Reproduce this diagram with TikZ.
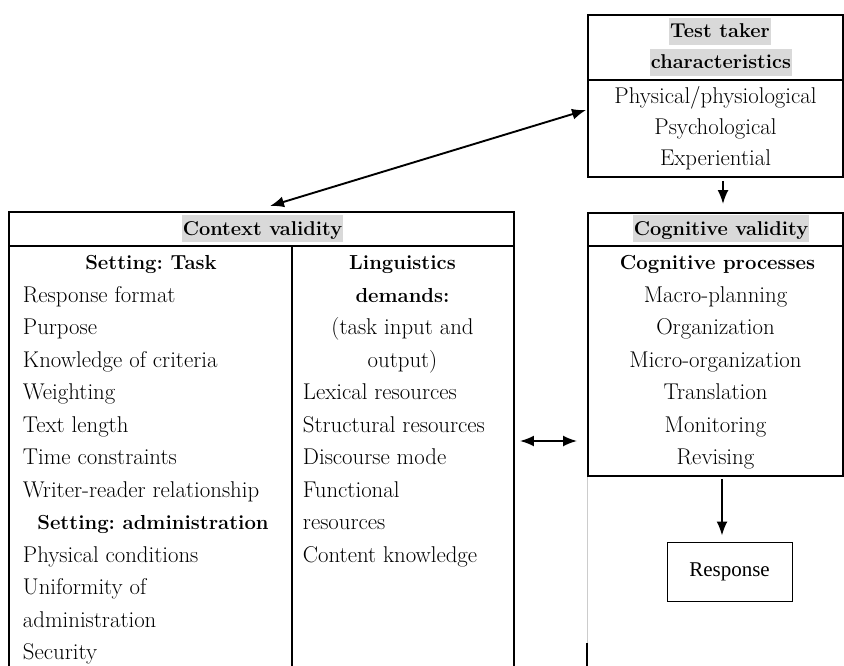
\documentclass[tikz,border=0pt]{standalone}
\usepackage{fontspec}
\newfontfamily\respfont{Liberation Serif}
\usetikzlibrary{arrows.meta}
\frenchspacing
\tikzset{
  box/.style={draw},
  hdr/.style={fill=black!15, inner sep=1pt, text height=19pt, text depth=6pt, anchor=base, font=\fontsize{20}{24}\selectfont\bfseries},
  cell/.style={inner sep=0pt, font=\fontsize{22.8}{32.5}\selectfont},
  cellbold/.style={inner sep=0pt, font=\fontsize{20.3}{32.5}\selectfont\bfseries},
}
\begin{document}
\begin{tikzpicture}[x=1pt, y=-1pt, line width=1.9pt, >={Latex[length=14pt,width=11pt]}]
    \useasboundingbox (0,0) rectangle (844,666);
    \node (taker) [box, minimum width=255pt, minimum height=162pt] at (715.5,96) {};
    \node (cognitive) [box, minimum width=255pt, minimum height=263pt] at (715.5,344.5) {};
    \node (context) [minimum width=503pt, minimum height=456pt, inner sep=0pt] at (261.5,441) {};
    \node (response) [draw, line width=0.9pt, minimum width=125pt, minimum height=59pt, font=\fontsize{21}{25}\respfont] at (729.5,571.5) {Response};
    \draw (context.south west) |- (context.north east) -- (context.south east);
    \draw (context.west |- 0,246) -- (context.east |- 0,246);
    \draw (292,246) -- (292,669);
    \draw (cognitive.west |- 0,246) -- (cognitive.east |- 0,246);
    \draw (taker.west |- 0,80) -- (taker.east |- 0,80);
    \draw [black!20, line width=0.6pt] (cognitive.south west) -- ++(0,166);
    \draw (cognitive.south west) ++(0,166) -- (cognitive.south west |- context.south);

    \node (takerhead1) [hdr] at (720,38) {Test taker\ };
    \node (takerhead2) [hdr] at (721,69) {characteristics};
    \node (takerlist) [cell, anchor=north, align=center, font=\fontsize{22.8}{31}\selectfont] at (715.5,81.3) {\strut Physical/physiological\\Psychological\\Experiential};

    \node (ctxhead) [hdr] at (262.5,235) {Context validity};
    \node (tasktitle) [cellbold, anchor=north] at (151,246) {\strut Setting: Task};
    \node (tasklist) [cell, anchor=north west, align=left] at (22,278.5) {\strut Response format\\Purpose\\Knowledge of criteria\\Weighting\\Text length\\Time constraints\\Writer-reader relationship};
    \node (admintitle) [cellbold, anchor=north] at (153,506) {\strut Setting: administration};
    \node (adminlist) [cell, anchor=north west, align=left] at (22,538.5) {\strut Physical conditions\\Uniformity of\\administration\\Security};
    \node (linghead) [cellbold, anchor=north, align=center] at (402.5,246) {\strut Linguistics\\demands:};
    \node (lingnote) [cell, anchor=north, align=center] at (402.5,311) {\strut (task input and\\output)};
    \node (linglist) [cell, anchor=north west, align=left] at (302,376) {\strut Lexical resources\\Structural resources\\Discourse mode\\Functional\\resources\\Content knowledge};

    \node (coghead) [hdr] at (721,235) {Cognitive validity};
    \node (cogtitle) [cellbold, anchor=north] at (717.5,246) {\strut Cognitive processes};
    \node (coglist) [cell, anchor=north, align=center] at (715.5,278.5) {\strut Macro-planning\\Organization\\Micro-organization\\Translation\\Monitoring\\Revising};

    \draw [<->] ([xshift=8.5pt,yshift=6pt]context.north) -- ([xshift=-1pt,yshift=-14pt]taker.west);
    \draw [->, shorten <=3pt, shorten >=8pt] ([xshift=7.5pt]taker.south) -- ([xshift=7.5pt]cognitive.north);
    \draw [<->] ([xshift=6pt]context.east) -- ([xshift=-10pt]cognitive.west |- context.east);
    \coordinate (respin) at ([xshift=-7.5pt]response.north);
    \draw [->, shorten <=2pt, shorten >=6pt] (respin |- cognitive.south) -- (respin);
\end{tikzpicture}
\end{document}
